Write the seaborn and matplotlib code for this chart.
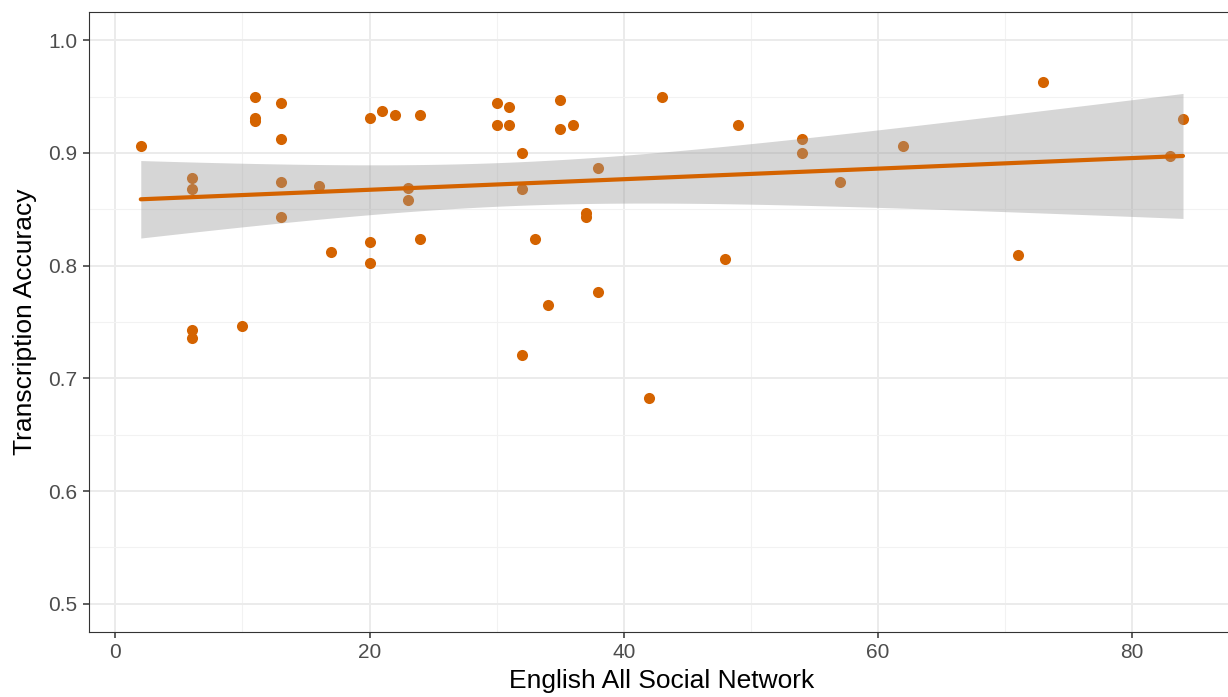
import numpy as np
import pandas as pd
import matplotlib
matplotlib.use("Agg")
import matplotlib.pyplot as plt
import seaborn as sns

# ---- data ----
network = [2, 6, 6, 6, 6, 10, 11, 11, 11, 13, 13, 13, 13, 16, 17,
           20, 20, 20, 21, 22, 23, 23, 24, 24, 30, 30, 31, 31, 32, 32, 32,
           33, 34, 35, 35, 36, 37, 37, 38, 38, 42, 43, 48, 49, 54, 54,
           57, 62, 71, 73, 83, 84]
accuracy = [0.906, 0.878, 0.868, 0.743, 0.736, 0.746, 0.950, 0.931, 0.928,
            0.944, 0.912, 0.874, 0.843, 0.871, 0.812,
            0.931, 0.821, 0.802, 0.937, 0.934, 0.869, 0.858, 0.934, 0.824,
            0.944, 0.925, 0.941, 0.925, 0.900, 0.868, 0.721,
            0.824, 0.765, 0.947, 0.921, 0.925, 0.847, 0.843, 0.887, 0.777,
            0.683, 0.950, 0.806, 0.925, 0.912, 0.900,
            0.874, 0.906, 0.809, 0.963, 0.897, 0.930]

x_ticks = [0, 20, 40, 60, 80]
y_ticks = [0.5, 0.6, 0.7, 0.8, 0.9, 1.0]
x_label = "English All Social Network"
y_label = "Transcription Accuracy"

df = pd.DataFrame({"network": network, "accuracy": accuracy})

ORANGE = "#D46300"

sns.set_theme(style="white")
plt.rcParams["font.family"] = ["Liberation Sans", "DejaVu Sans"]

fig = plt.figure(figsize=(12.28, 6.97), dpi=100)
ax = fig.add_axes([0.0722, 0.0933, 0.9336, 0.8895])

# points
sns.scatterplot(data=df, x="network", y="accuracy", ax=ax, color=ORANGE,
                s=64, linewidth=0, zorder=2, legend=False)

# analytic 95% confidence band (as ggplot geom_smooth(method='lm'))
xv = df["network"].to_numpy(float)
yv = df["accuracy"].to_numpy(float)
n = len(xv)
b1, b0 = np.polyfit(xv, yv, 1)
resid = yv - (b0 + b1 * xv)
s = np.sqrt(np.sum(resid ** 2) / (n - 2))
sxx = np.sum((xv - xv.mean()) ** 2)
grid = np.linspace(xv.min(), xv.max(), 200)
fit = b0 + b1 * grid
se = s * np.sqrt(1.0 / n + (grid - xv.mean()) ** 2 / sxx)
tval = 2.0086
ax.fill_between(grid, fit - tval * se, fit + tval * se, color="#999999",
                alpha=0.4, linewidth=0, zorder=3)

# regression line
sns.regplot(data=df, x="network", y="accuracy", ax=ax, scatter=False, ci=None,
            truncate=True, color=ORANGE, line_kws={"linewidth": 3, "zorder": 4})

ax.set_xlim(-2.1, 88.1)
ax.set_ylim(0.475, 1.025)
ax.set_xticks(x_ticks)
ax.set_yticks(y_ticks)
ax.set_xticklabels([str(t) for t in x_ticks])
ax.set_yticklabels([f"{t:.1f}" for t in y_ticks])
ax.set_xticks([10, 30, 50, 70], minor=True)
ax.set_yticks([0.55, 0.65, 0.75, 0.85, 0.95], minor=True)

ax.grid(True, which="major", color="#EBEBEB", linewidth=1.4, zorder=0)
ax.grid(True, which="minor", color="#F2F2F2", linewidth=0.8, zorder=0)
ax.set_axisbelow(True)

for side in ["left", "bottom", "top"]:
    ax.spines[side].set_visible(True)
    ax.spines[side].set_color("#333333")
    ax.spines[side].set_linewidth(0.8)
ax.spines["right"].set_visible(False)

ax.tick_params(axis="both", which="major", length=4.3, width=1.1, color="#333333",
               labelsize=15, labelcolor="#4D4D4D", pad=4, bottom=True, left=True)
ax.tick_params(axis="both", which="minor", length=0)

ax.set_xlabel(x_label, fontsize=19, color="black", labelpad=5)
ax.set_ylabel(y_label, fontsize=19, color="black", labelpad=8)

fig.savefig("out.png", dpi=100)
